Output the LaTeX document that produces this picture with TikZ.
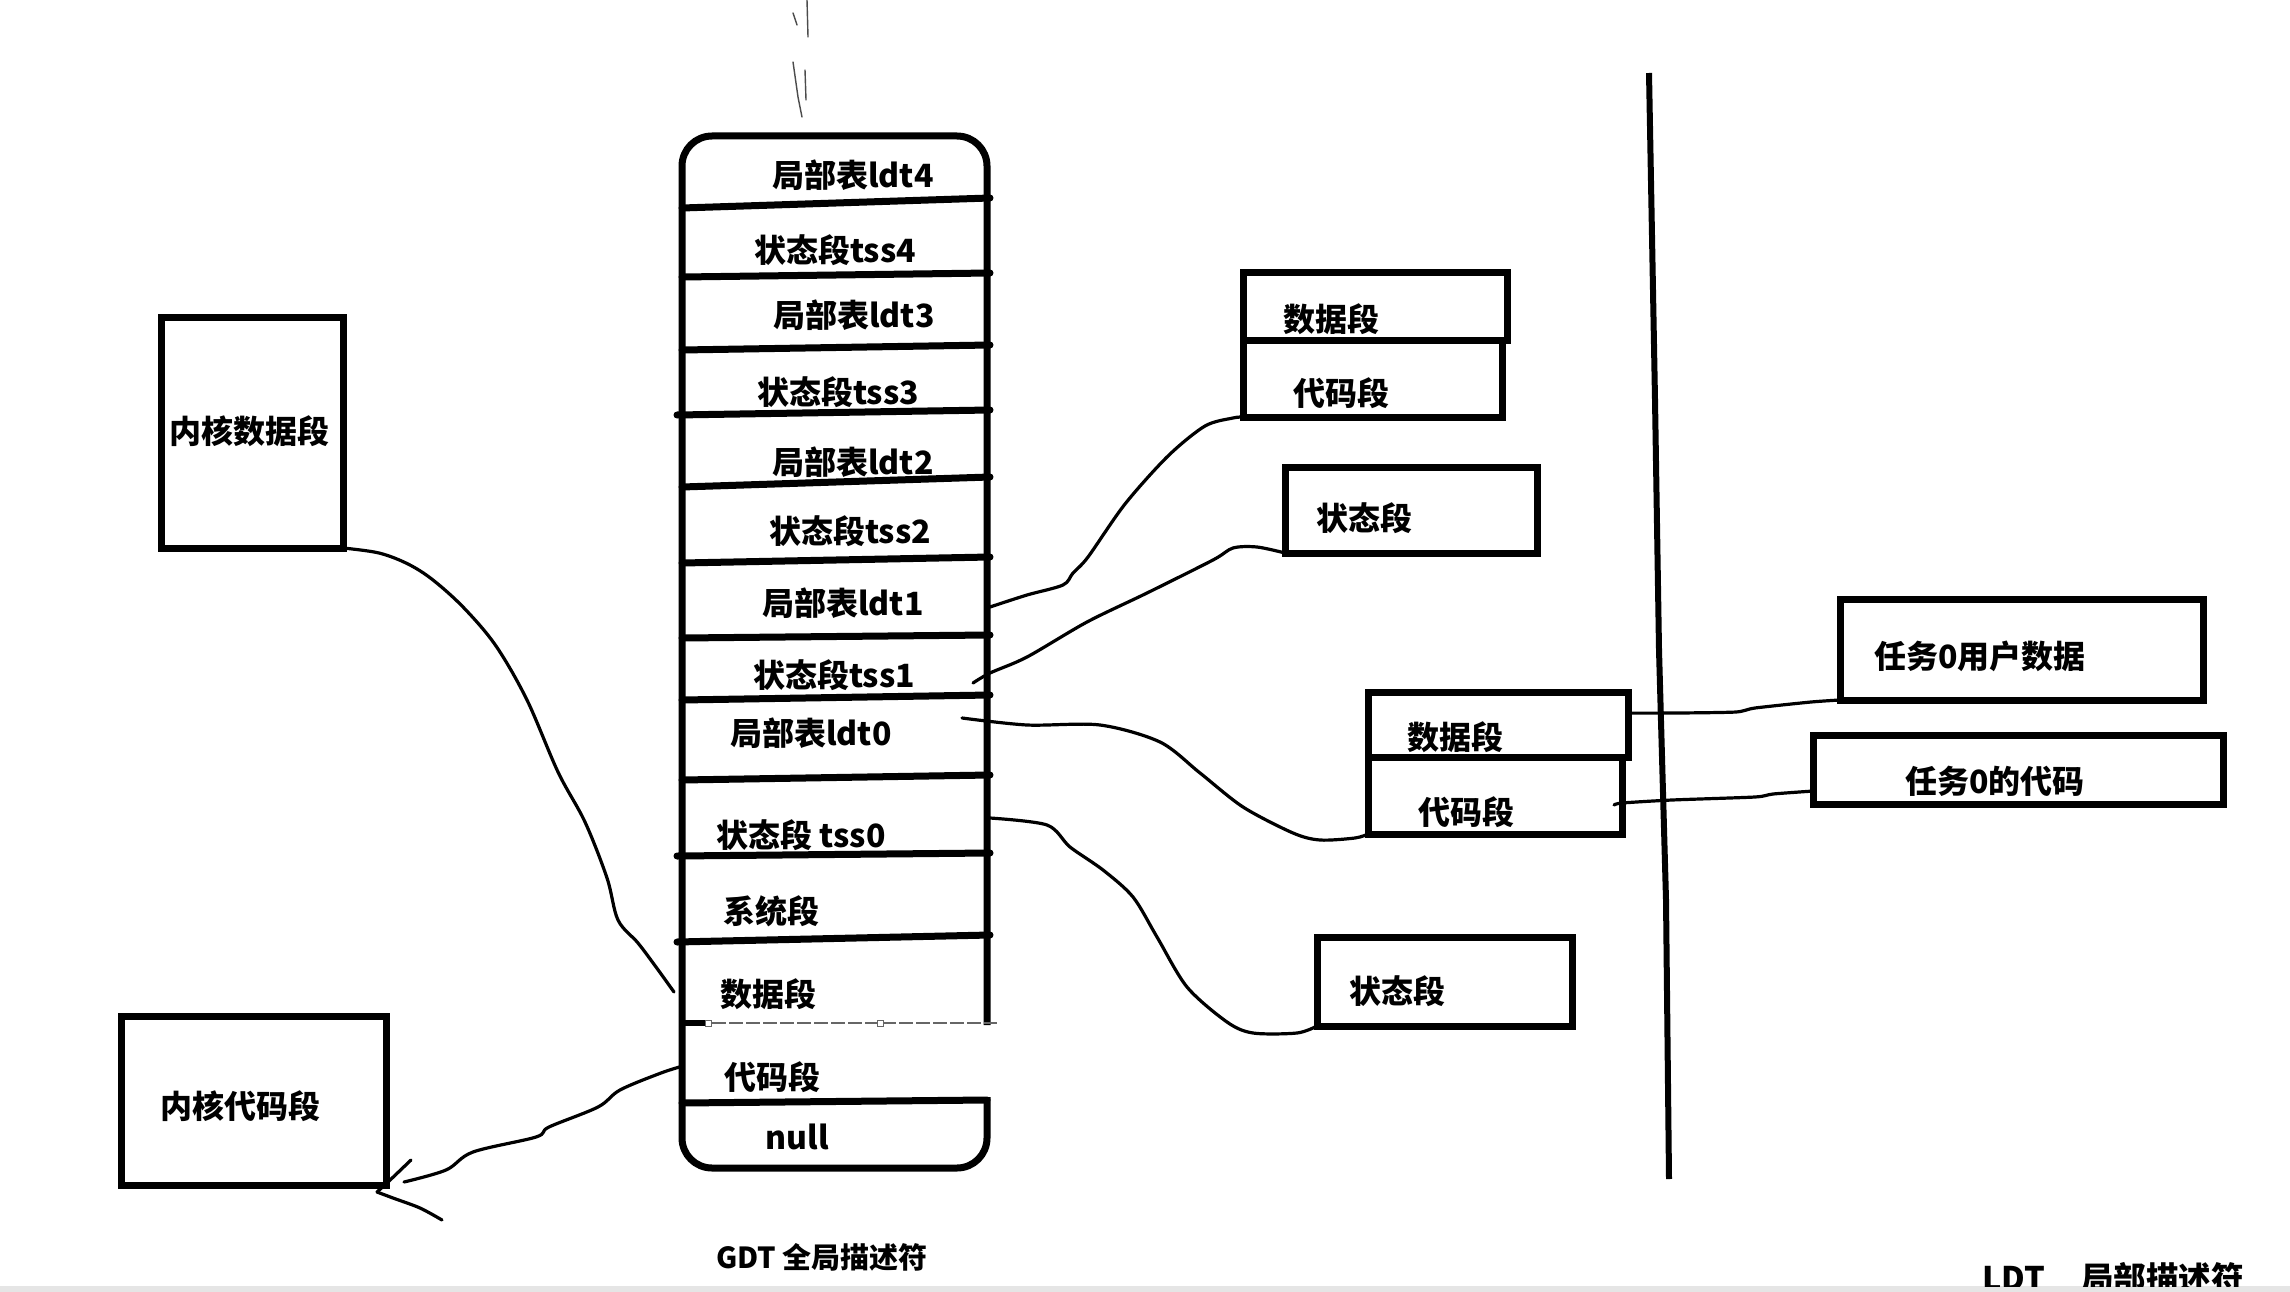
\documentclass[tikz,border=0pt]{standalone}
\usepackage{fontspec}
\setmainfont{Noto Sans CJK SC}
\begin{document}
\begin{tikzpicture}[x=1pt,y=-1pt,
  box/.style={draw, line width=7pt, inner sep=0pt, outer sep=0pt},
  lbl/.style={font=\bfseries\fontsize{32}{36}\selectfont, inner sep=0pt},
  conn/.style={line width=3.2pt, line cap=round, line join=round},
  rule/.style={line width=7pt, line cap=round},
  faint/.style={line width=1.4pt, black!70, line cap=round}]
\useasboundingbox (0,0) rectangle (2290,1292);
\fill[white] (0,0) rectangle (2290,1292);
\fill[black!10] (0,1286) rectangle (2290,1292);

% marks at the top
\draw[faint] (793,13) -- (797,25);
\draw[faint] (807,0) -- (808,37);
\draw[faint] (793,62) -- (798,97) -- (802,117);
\draw[faint] (805,70) -- (806,100);

% GDT table
\draw[line width=7pt, rounded corners=30pt] (987,1025) -- (987,136) -- (682,136) -- (682,1168) -- (987,1168) -- (987,1097);
\draw[rule] (682,208) -- (990,198);
\draw[rule] (682,277) -- (990,273);
\draw[rule] (682,350) -- (990,345);
\draw[rule] (677,415) -- (990,410);
\draw[rule] (682,487) -- (990,477);
\draw[rule] (682,563) -- (990,557);
\draw[rule] (682,638) -- (990,635);
\draw[rule] (682,700) -- (990,695);
\draw[rule] (682,780) -- (990,775);
\draw[rule] (677,856) -- (990,853);
\draw[rule] (677,942) -- (990,935);
\draw[line width=6pt] (679,1023) -- (712,1023);
\draw[line width=1.2pt, black!60, dash pattern=on 14pt off 3pt] (712,1023) -- (997,1023);
\draw[line width=0.8pt, black!60, fill=white] (705,1020) rectangle (711,1026);
\draw[line width=0.8pt, black!60, fill=white] (877,1020) rectangle (883,1026);
\draw[rule] (682,1103) -- (987,1100);

\node[lbl] (g13) at (853,175) {局部表ldt4};
\node[lbl] (g12) at (835,250) {状态段tss4};
\node[lbl] (g11) at (854,315) {局部表ldt3};
\node[lbl] (g10) at (838,392) {状态段tss3};
\node[lbl] (g9)  at (853,462) {局部表ldt2};
\node[lbl] (g8)  at (850,531) {状态段tss2};
\node[lbl] (g7)  at (843,603) {局部表ldt1};
\node[lbl] (g6)  at (834,675) {状态段tss1};
\node[lbl] (g5)  at (811,733) {局部表ldt0};
\node[lbl] (g4)  at (801,835) {状态段 tss0};
\node[lbl] (g3)  at (771,911) {系统段};
\node[lbl] (g2)  at (768,994) {数据段};
\node[lbl] (g1)  at (772,1077) {代码段};
\node[lbl] (g0)  at (797,1137) {null};

\node[font=\bfseries\fontsize{29}{33}\selectfont, inner sep=0pt] (gdtlabel) at (822,1257) {GDT 全局描述符};
\begin{scope}
\clip (0,0) rectangle (2290,1286);
\node[font=\bfseries\fontsize{32.5}{36}\selectfont, inner sep=0pt, anchor=north west] (ldtlabel) at (1982,1262) {LDT\hspace{36pt}局部描述符};
\end{scope}

% kernel boxes
\node[box, minimum width=182, minimum height=231] (kd) at (252,432.5) {};
\node[lbl] (kdt) at (249,431) {内核数据段};
\node[box, minimum width=265, minimum height=169] (kc) at (253.5,1100.5) {};
\node[lbl] (kct) at (240,1106) {内核代码段};

% upper group
\node[box, minimum width=264, minimum height=68] (du) at (1375,306) {};
\node[lbl] (dut) at (1331,319) {数据段};
\node[box, minimum width=259, minimum height=77] (cu) at (1372.5,378.5) {};
\node[lbl] (cut) at (1341,393) {代码段};
\node[box, minimum width=252, minimum height=86] (su) at (1411,510) {};
\node[lbl] (sut) at (1364,518) {状态段};

% lower group
\node[box, minimum width=260, minimum height=65] (dl) at (1498,724.5) {};
\node[lbl] (dlt) at (1455,737) {数据段};
\node[box, minimum width=254, minimum height=77] (cl) at (1495,795.5) {};
\node[lbl] (clt) at (1466,812) {代码段};
\node[box, minimum width=255, minimum height=89] (sl) at (1444.5,981.5) {};
\node[lbl] (slt) at (1397,991) {状态段};

% task boxes
\node[box, minimum width=363, minimum height=101] (tu) at (2021.5,649.5) {};
\node[lbl] (tut) at (1980,656) {任务0用户数据};
\node[box, minimum width=410, minimum height=69] (tc) at (2018,769.5) {};
\node[lbl] (tct) at (1995,781) {任务0的代码};

% LDT divider
\draw[line width=6pt] (1649,73) -- (1655,400) -- (1659,650) -- (1666,900) -- (1669,1179);

% connector end points on GDT
\coordinate (gdtdataL) at (674,992);
\coordinate (gdtcodeL) at (683,1066);
\coordinate (ldt1R) at (990,607);
\coordinate (tss1R) at (973,683);
\coordinate (ldt0R) at (962,718);
\coordinate (tss0R) at (990,818);
\coordinate (clR) at (1614,805);
\coordinate (tip) at (377,1192);

\draw[conn] plot[smooth, tension=0.55] coordinates {(kd.south east) (379,553) (408,564) (433,580) (464,608) (496,646) (527,700) (558,772) (585,822) (607,878) (618,920) (638,943) (656,967) (gdtdataL)};
\draw[conn] plot[smooth, tension=0.55] coordinates {(gdtcodeL) (661,1073) (620,1090) (598,1107) (549,1127) (536,1137) (473,1152) (446,1170) (404,1182)};
\draw[conn] plot[smooth, tension=0.5] coordinates {(411,1160) (388,1182) (tip)};
\draw[conn] plot[smooth, tension=0.5] coordinates {(tip) (393,1198) (420,1208) (442,1220)};

\draw[conn] plot[smooth, tension=0.5] coordinates {(ldt1R) (1027,595) (1063,585) (1073,573) (1088,557) (1125,504) (1168,456) (1205,426) (1233,418) (cu.south west)};
\draw[conn] plot[smooth, tension=0.5] coordinates {(tss1R) (990,673) (1027,657) (1087,622) (1147,593) (1213,560) (1233,548) (1257,547) (su.south west)};
\draw[conn] plot[smooth, tension=0.5] coordinates {(ldt0R) (1027,725) (1100,725) (1160,742) (1200,773) (1243,807) (1293,833) (1320,840) (1355,838) (cl.south west)};
\draw[conn] plot[smooth, tension=0.5] coordinates {(tss0R) (1047,825) (1070,847) (1103,870) (1133,897) (1157,937) (1187,987) (1227,1022) (1253,1033) (1297,1033) (sl.south west)};
\draw[conn] plot[smooth, tension=0.4] coordinates {(dl.5.5) (1679,713) (1736,712) (1755,708) (1811,702) (tu.south west)};
\draw[conn] plot[smooth, tension=0.4] coordinates {(clR) (1622,803) (1672,800) (1755,797) (1773,794) (tc.186.5)};
\end{tikzpicture}
\end{document}
